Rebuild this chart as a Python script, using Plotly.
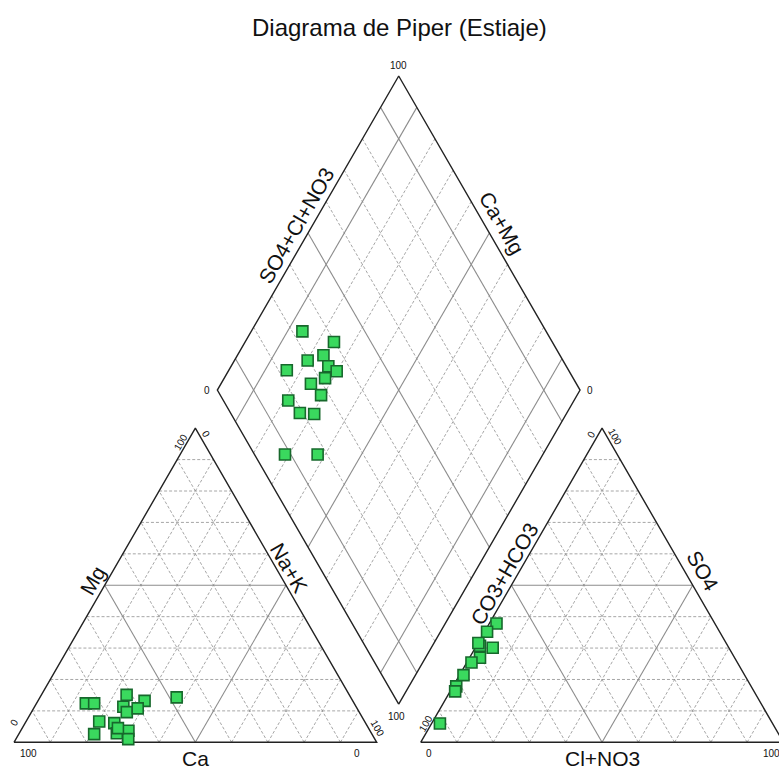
import math
import plotly.graph_objects as go

# ---------------- data (percent) ----------------
# Cation triangle: Mg and Na+K (Ca = 100 - Mg - Na+K)
cat_mg = [12.4, 12.4, 15.1, 13.2, 14.3, 11.3, 9.6, 10.8, 6.6, 6.1, 2.6, 2.9, 3.7, 1.0, 4.5]
cat_nak = [13.6, 15.9, 23.5, 29.4, 37.7, 24.5, 26.3, 28.7, 20.2, 24.6, 20.8, 26.9, 29.7, 31.0, 26.4]
# Anion triangle: SO4 and Cl+NO3 (CO3+HCO3 = 100 - SO4 - Cl)
an_so4 = [37.8, 35.2, 30.7, 30.1, 26.9, 25.4, 21.4, 17.8, 16.2, 6.0, 31.6]
an_cl = [2.0, 0.7, 1.0, 4.8, 2.9, 1.3, 1.1, 0.9, 1.4, 2.3, 0.1]
# Diamond: Ca+Mg and SO4+Cl+NO3
dia_camg = [85.9, 75.5, 79.8, 76.3, 73.2, 70.1, 72.2, 84.0, 75.2, 70.6, 78.8, 73.6, 69.5, 71.1, 62.1]
dia_so4cl = [32.8, 39.8, 29.6, 34.8, 34.4, 35.9, 31.6, 22.3, 26.8, 27.8, 17.9, 19.1, 22.9, 8.4, 17.4]

grid_steps = [10, 20, 30, 40, 50, 60, 70, 80, 90]
tri_solid = [50]
dia_solid = [10, 50, 90]

title_text = "Diagrama de Piper (Estiaje)"

# ---------------- geometry ----------------
H = math.sqrt(3) / 2
GAP = 0.1213
S = 362.7  # pixels per unit side (only for label offsets)


def cat_xy(mg, nak):
    return (nak + mg / 2) / 100.0, mg / 100.0 * H


def an_xy(so4, cl):
    return 1 + GAP + (cl + so4 / 2) / 100.0, so4 / 100.0 * H


BX, BY = 1 + GAP / 2, GAP * H


def dia_xy(camg, s):
    return BX + 0.5 * (s - camg) / 100.0, BY + H * (s + camg) / 100.0


def off(pt, dx, dy):
    return pt[0] + dx / S, pt[1] - dy / S


def add_seg(xs, ys, a, b):
    xs += [a[0], b[0], None]
    ys += [a[1], b[1], None]


sol_x, sol_y, dash_x, dash_y, bor_x, bor_y = [], [], [], [], [], []

for k in grid_steps:
    segs_c = [
        (cat_xy(k, 0), cat_xy(k, 100 - k)),        # Mg = k
        (cat_xy(0, k), cat_xy(100 - k, k)),        # Na+K = k
        (cat_xy(0, 100 - k), cat_xy(100 - k, 0)),  # Ca = k
    ]
    segs_a = [
        (an_xy(k, 0), an_xy(k, 100 - k)),
        (an_xy(0, k), an_xy(100 - k, k)),
        (an_xy(0, 100 - k), an_xy(100 - k, 0)),
    ]
    for a, b in segs_c + segs_a:
        if k in tri_solid:
            add_seg(sol_x, sol_y, a, b)
        else:
            add_seg(dash_x, dash_y, a, b)
    segs_d = [
        (dia_xy(k, 0), dia_xy(k, 100)),
        (dia_xy(0, k), dia_xy(100, k)),
    ]
    for a, b in segs_d:
        if k in dia_solid:
            add_seg(sol_x, sol_y, a, b)
        else:
            add_seg(dash_x, dash_y, a, b)

# corners
c_bl, c_br, c_top = cat_xy(0, 0), cat_xy(0, 100), cat_xy(100, 0)
a_bl, a_br, a_top = an_xy(0, 0), an_xy(0, 100), an_xy(100, 0)
dB, dL, dT, dR = dia_xy(0, 0), dia_xy(100, 0), dia_xy(100, 100), dia_xy(0, 100)
for poly in ([c_bl, c_top, c_br, c_bl], [a_bl, a_top, a_br, a_bl], [dB, dL, dT, dR, dB]):
    for p in poly:
        bor_x.append(p[0])
        bor_y.append(p[1])
    bor_x.append(None)
    bor_y.append(None)

fig = go.Figure()
fig.add_trace(go.Scatter(x=dash_x, y=dash_y, mode="lines", hoverinfo="skip",
                         line=dict(color="#8f8f8f", width=0.8, dash="3px,2px")))
fig.add_trace(go.Scatter(x=sol_x, y=sol_y, mode="lines", hoverinfo="skip",
                         line=dict(color="#8c8c8c", width=1.1)))
fig.add_trace(go.Scatter(x=bor_x, y=bor_y, mode="lines", hoverinfo="skip",
                         line=dict(color="#222222", width=1.4)))

marker = dict(symbol="square", size=11, color="#3ad95e",
              line=dict(color="#17682c", width=1.6))
cp = [cat_xy(m, n) for m, n in zip(cat_mg, cat_nak)]
ap = [an_xy(s, c) for s, c in zip(an_so4, an_cl)]
dp = [dia_xy(c, s) for c, s in zip(dia_camg, dia_so4cl)]
for pts in (cp, ap, dp):
    fig.add_trace(go.Scatter(x=[p[0] for p in pts], y=[p[1] for p in pts],
                             mode="markers", marker=marker))

FONT = "Liberation Sans, Arial, sans-serif"
ann = []


def txt(pt, text, size, angle=0, dx=0, dy=0):
    x, y = off(pt, dx, dy)
    ann.append(dict(x=x, y=y, xref="x", yref="y", text=text, showarrow=False,
                    textangle=angle, font=dict(family=FONT, size=size, color="#111111"),
                    xanchor="center", yanchor="middle"))


TS = 10
# cation tick labels
txt(c_top, "100", TS, -60, -15, 14)
txt(c_top, "0", TS, 60, 11, 6)
txt(c_bl, "0", TS, -60, 0, -20)
txt(c_bl, "100", TS, 0, 14, 11)
txt(c_br, "0", TS, 0, -20, 11)
txt(c_br, "100", TS, 60, 1, -14)
# anion tick labels
txt(a_top, "0", TS, -60, -11, 6)
txt(a_top, "100", TS, 60, 13, 8)
txt(a_bl, "100", TS, -60, 5, -19)
txt(a_bl, "0", TS, 0, 8, 11)
txt(a_br, "100", TS, 0, -12, 11)
txt(a_br, "0", TS, 60, -4, -22)
# diamond tick labels
txt(dT, "100", TS, 0, 0, -10)
txt(dL, "0", TS, 0, -10, 0)
txt(dR, "0", TS, 0, 10, 0)
txt(dB, "100", TS, 0, -2, 12)


def mid(p, q):
    return (p[0] + q[0]) / 2, (p[1] + q[1]) / 2


AS = 21
txt(mid(c_bl, c_br), "Ca", AS, 0, 0, 16)
txt(mid(c_bl, c_top), "Mg", AS, -60, -12, -5)
txt(mid(c_top, c_br), "Na+K", AS, 60, 3, -18)
txt(mid(a_bl, a_br), "Cl+NO3", AS, 0, 0, 16)
txt(mid(a_bl, a_top), "CO3+HCO3", AS, -60, -7, -12)
txt(mid(a_top, a_br), "SO4", AS, 60, 10, -15)
txt(mid(dL, dT), "SO4+Cl+NO3", AS, -60, -12, -8)
txt(mid(dT, dR), "Ca+Mg", AS, 60, 13, -10)

# title
txt(dT, title_text, 24, 0, 1, -48)

fig.update_layout(
    width=779, height=773,
    margin=dict(l=0, r=0, t=0, b=0),
    paper_bgcolor="white", plot_bgcolor="white",
    showlegend=False,
    annotations=ann,
    xaxis=dict(range=[-14 / S, (779 - 14) / S], visible=False, fixedrange=True),
    yaxis=dict(range=[(742.3 - 773) / S, 742.3 / S], visible=False, fixedrange=True),
)

fig.write_html("out.html", config={"displayModeBar": False},
               post_script="document.body.style.margin='0px';document.body.style.overflow='hidden';")
